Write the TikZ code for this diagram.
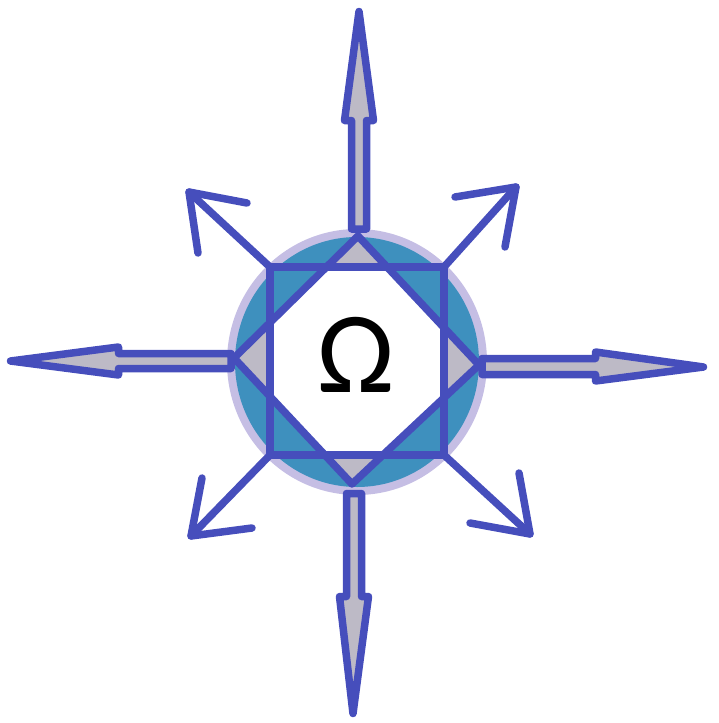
\documentclass[tikz,border=0pt]{standalone}
\usepackage{fontspec}
\setmainfont{Carlito}
\definecolor{cblue}{RGB}{70,78,188}
\definecolor{cteal}{RGB}{62,144,190}
\definecolor{clav}{RGB}{197,190,228}
\definecolor{cgrey}{RGB}{189,186,198}
\tikzset{
  edge/.style={draw=cblue,line width=7.5pt,line join=round,line cap=round},
  bigarrow/.style={draw=cblue,fill=cgrey,line width=7.5pt,line join=round},
  thinarrow/.style={draw=cblue,line width=7.5pt,line join=round,line cap=round}
}
\begin{document}
\begin{tikzpicture}[x=1pt,y=-1pt]
\useasboundingbox (0,0) rectangle (719,723);
% circle
\fill[clav] (357,362) ellipse [x radius=130, y radius=133];
\fill[cteal] (357,362) ellipse [x radius=122, y radius=125];
% named corners
\coordinate (sq1) at (270,267);
\coordinate (sq2) at (444,267);
\coordinate (sq3) at (444,455);
\coordinate (sq4) at (270,455);
\coordinate (dT) at (358,236);
\coordinate (dR) at (479,365);
\coordinate (dB) at (352,484);
\coordinate (dL) at (234,358);
% diamond grey, octagon white
\fill[cgrey] (dT) -- (dR) -- (dB) -- (dL) -- cycle;
\begin{scope}
  \clip (dT) -- (dR) -- (dB) -- (dL) -- cycle;
  \fill[white] (sq1) -- (sq2) -- (sq3) -- (sq4) -- cycle;
\end{scope}
% big arrows
\draw[bigarrow] (351.5,229) -- (351.5,120.5) -- (344.5,120.5) -- (359,11.5) -- (373.5,120.5) -- (366.5,120.5) -- (366.5,229) -- cycle;
\draw[bigarrow] (231,353.5) -- (118.5,353.5) -- (118.5,347) -- (10.5,361) -- (118.5,375) -- (118.5,368.5) -- (231,368.5) -- cycle;
\draw[bigarrow] (482,358.5) -- (595.5,358.5) -- (595.5,352) -- (703.5,367) -- (595.5,381) -- (595.5,374.5) -- (482,374.5) -- cycle;
\draw[bigarrow] (346.5,493.5) -- (346.5,596.5) -- (339.5,596.5) -- (353,713.5) -- (368.5,596.5) -- (361.5,596.5) -- (361.5,493.5) -- cycle;
% square and diamond outlines
\draw[edge] (sq1) -- (sq2) -- (sq3) -- (sq4) -- cycle;
\draw[edge] (dT) -- (dR) -- (dB) -- (dL) -- cycle;
% diagonal arrows
\coordinate (t1) at (189,192);
\coordinate (t2) at (516,187);
\coordinate (t3) at (191,536);
\coordinate (t4) at (530,534);
\draw[thinarrow] (sq1) -- (t1);
\draw[thinarrow] (247,203) -- (t1) -- (198,253);
\draw[thinarrow] (sq2) -- (t2);
\draw[thinarrow] (455,197) -- (t2) -- (505,247);
\draw[thinarrow] (sq4) -- (t3);
\draw[thinarrow] (202,478) -- (t3) -- (252,528);
\draw[thinarrow] (sq3) -- (t4);
\draw[thinarrow] (519,473) -- (t4) -- (470,523);
% text
\node[inner sep=0pt,anchor=center,font=\fontsize{116}{120}\selectfont] (om) at (356.5,355) {Ω};
\end{tikzpicture}
\end{document}
